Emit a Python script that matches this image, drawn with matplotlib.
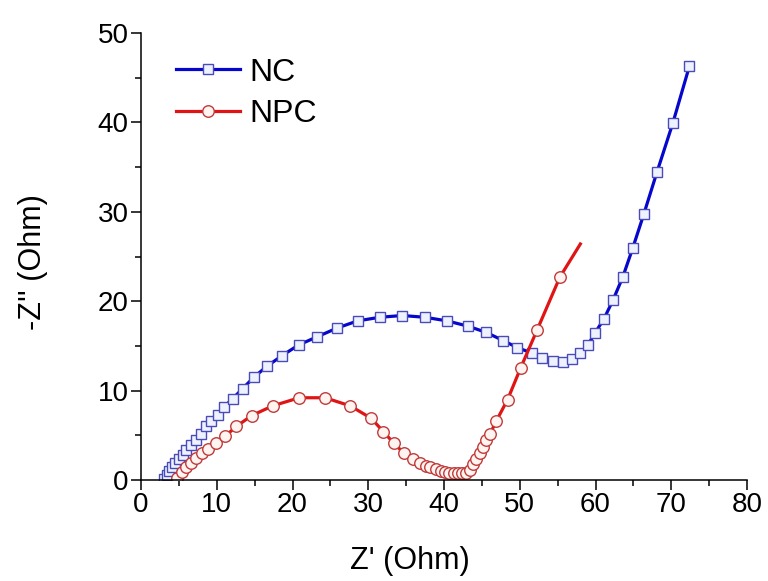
import matplotlib
matplotlib.use("Agg")
import matplotlib.pyplot as plt
from matplotlib.ticker import MultipleLocator

plt.rcParams['font.family'] = ['Liberation Sans', 'DejaVu Sans']

nc_x = [3.0, 3.4, 3.7, 4.1, 4.5, 5.0, 5.5, 6.0, 6.6, 7.2,
        7.9, 8.6, 9.2, 10.1, 11.0, 12.1, 13.4, 14.9, 16.6, 18.6,
        20.8, 23.2, 25.9, 28.6, 31.5, 34.5, 37.5, 40.4, 43.2, 45.6,
        47.8, 49.7, 51.6, 52.9, 54.4, 55.7, 56.9, 58.0, 59.0, 59.9,
        61.1, 62.3, 63.6, 64.9, 66.4, 68.1, 70.2, 72.4]
nc_y = [0.1, 0.55, 1.0, 1.4, 1.85, 2.3, 2.8, 3.35, 3.9, 4.5,
        5.2, 6.0, 6.6, 7.3, 8.2, 9.1, 10.2, 11.5, 12.7, 13.9,
        15.1, 16.0, 17.0, 17.8, 18.2, 18.4, 18.2, 17.8, 17.2, 16.5,
        15.6, 14.8, 14.2, 13.7, 13.3, 13.2, 13.5, 14.2, 15.1, 16.4,
        18.0, 20.1, 22.7, 25.9, 29.8, 34.4, 39.9, 46.3]

npc_x = [4.7, 5.4, 5.9, 6.6, 7.3, 8.0, 8.8, 9.9, 11.1, 12.6,
         14.6, 17.4, 20.9, 24.3, 27.6, 30.4, 32.0, 33.4, 34.7, 35.9,
         36.8, 37.6, 38.2, 38.9, 39.6, 40.1, 40.7, 41.3, 41.9, 42.4,
         42.9, 43.4, 43.8, 44.2, 44.7, 45.2, 45.6, 46.1, 46.9, 48.4,
         50.1, 52.3, 55.3, 58.0]
npc_y = [0.2, 0.9, 1.4, 1.95, 2.5, 3.0, 3.5, 4.1, 4.9, 6.0,
         7.2, 8.3, 9.2, 9.2, 8.3, 6.9, 5.4, 4.1, 3.0, 2.3,
         1.9, 1.6, 1.4, 1.2, 1.05, 0.9, 0.8, 0.75, 0.75, 0.75,
         0.8, 1.1, 1.8, 2.3, 3.05, 3.7, 4.5, 5.2, 6.6, 9.0,
         12.5, 16.8, 22.7, 26.4]

labels = ["NC", "NPC"]

fig = plt.figure(figsize=(7.68, 5.81), dpi=100)
ax = fig.add_axes([141/768, 1-480/581, 606/768, 447/581])

ax.plot(nc_x, nc_y, '-', color='#0606cc', lw=2.3, marker='s', ms=6.5,
        mfc='#eef2ff', mec='#4a4ab8', mew=1.0, label=labels[0])
ax.plot(npc_x, npc_y, '-', color='#e01414', lw=2.3, marker='o', ms=8.3,
        mfc='#fff4f0', mec='#c03a3a', mew=1.0, label=labels[1],
        markevery=list(range(len(npc_x) - 1)))

ax.set_xlim(0, 80)
ax.set_ylim(0, 50)
ax.xaxis.set_major_locator(MultipleLocator(10))
ax.xaxis.set_minor_locator(MultipleLocator(5))
ax.yaxis.set_major_locator(MultipleLocator(10))
ax.yaxis.set_minor_locator(MultipleLocator(5))
for s in ['top', 'right']:
    ax.spines[s].set_visible(False)
for s in ['left', 'bottom']:
    ax.spines[s].set_linewidth(1.1)
ax.tick_params(which='major', direction='out', length=7, width=1.1, labelsize=20, pad=2)
ax.tick_params(which='minor', direction='out', length=4, width=1.1)

ax.set_xlabel("Z' (Ohm)", fontsize=22)
ax.set_ylabel("-Z'' (Ohm)", fontsize=22)
ax.xaxis.set_label_coords(0.444, -0.147)
ax.yaxis.set_label_coords(-0.153, 0.488)

leg = ax.legend(loc='upper left', bbox_to_anchor=(0.058, 0.945), frameon=False,
                fontsize=23, handlelength=2.0, handletextpad=0.3,
                labelspacing=0.37, borderpad=0, borderaxespad=0)

fig.savefig('out.png', dpi=100)
